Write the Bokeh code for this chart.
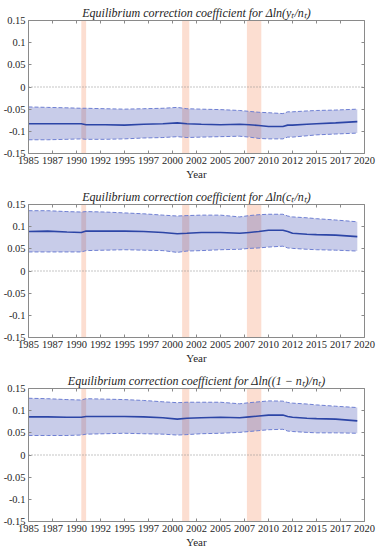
from bokeh.plotting import figure
from bokeh.layouts import column
from bokeh.models import (FixedTicker, LinearAxis, Span, Range1d, CustomJSTickFormatter,
                          BoxAnnotation, Spacer)
from bokeh.embed import file_html
from bokeh.resources import INLINE

years = [1985, 1987, 1989, 1990.5, 1991, 1993, 1995, 1997, 1999, 2000.5, 2001.5, 2003,
         2005, 2007, 2008, 2009, 2010, 2011.5, 2012, 2012.5, 2014, 2015, 2017, 2019.25]

y_mid = [-0.083, -0.083, -0.083, -0.083, -0.085, -0.085, -0.086, -0.084, -0.083, -0.081, -0.083, -0.084,
         -0.085, -0.084, -0.085, -0.087, -0.089, -0.089, -0.086, -0.086, -0.084, -0.083, -0.081, -0.078]
y_up = [-0.045, -0.046, -0.047, -0.048, -0.048, -0.049, -0.050, -0.049, -0.048, -0.046, -0.049, -0.050,
        -0.051, -0.053, -0.055, -0.057, -0.058, -0.060, -0.056, -0.056, -0.054, -0.053, -0.052, -0.050]
y_lo = [-0.119, -0.119, -0.118, -0.117, -0.118, -0.118, -0.117, -0.115, -0.114, -0.112, -0.114, -0.113,
        -0.112, -0.111, -0.113, -0.116, -0.117, -0.117, -0.113, -0.113, -0.110, -0.108, -0.106, -0.104]

c_mid = [0.089, 0.090, 0.088, 0.087, 0.090, 0.090, 0.090, 0.089, 0.087, 0.084, 0.085, 0.087,
         0.087, 0.085, 0.087, 0.089, 0.092, 0.092, 0.089, 0.085, 0.083, 0.082, 0.081, 0.0775]
c_up = [0.136, 0.136, 0.134, 0.133, 0.134, 0.133, 0.131, 0.129, 0.126, 0.124, 0.125, 0.126,
        0.126, 0.122, 0.125, 0.127, 0.128, 0.128, 0.124, 0.122, 0.120, 0.118, 0.115, 0.111]
c_lo = [0.043, 0.043, 0.043, 0.043, 0.046, 0.047, 0.048, 0.047, 0.046, 0.042, 0.045, 0.046,
        0.048, 0.049, 0.051, 0.052, 0.054, 0.056, 0.052, 0.051, 0.049, 0.048, 0.047, 0.045]

n_mid = [0.086, 0.086, 0.085, 0.085, 0.087, 0.087, 0.087, 0.086, 0.084, 0.081, 0.083, 0.084,
         0.085, 0.084, 0.086, 0.088, 0.090, 0.090, 0.087, 0.085, 0.083, 0.082, 0.081, 0.077]
n_up = [0.128, 0.127, 0.125, 0.124, 0.127, 0.126, 0.125, 0.123, 0.120, 0.118, 0.119, 0.119,
        0.119, 0.1155, 0.118, 0.120, 0.122, 0.1215, 0.1185, 0.117, 0.115, 0.113, 0.110, 0.107]
n_lo = [0.044, 0.044, 0.044, 0.045, 0.047, 0.048, 0.049, 0.048, 0.047, 0.045, 0.046, 0.048,
        0.049, 0.051, 0.053, 0.055, 0.057, 0.058, 0.054, 0.053, 0.051, 0.050, 0.050, 0.049]

recession_start = [1990.5, 2001.0, 2007.75]
recession_end = [1991.0, 2001.75, 2009.25]

x_ticks = [1985, 1987.5, 1990, 1992.5, 1995, 1997.5, 2000, 2002.5, 2005, 2007.5, 2010, 2012.5,
           2015, 2017.5, 2020]
x_tick_labels = ["1985", "1987", "1990", "1992", "1995", "1997", "2000", "2002", "2005", "2007",
                 "2010", "2012", "2015", "2017", "2020"]
y_ticks = [-0.15, -0.1, -0.05, 0, 0.05, 0.1, 0.15]
y_tick_labels = ["-0.15", "-0.1", "-0.05", "0", "0.05", "0.1", "0.15"]

titles = ["Equilibrium correction coefficient for \u0394ln(y\u209c/n\u209c)",
          "Equilibrium correction coefficient for \u0394ln(c\u209c/n\u209c)",
          "Equilibrium correction coefficient for \u0394ln((1 \u2212 n\u209c)/n\u209c)"]
series = [(y_mid, y_up, y_lo), (c_mid, c_up, c_lo), (n_mid, n_up, n_lo)]

FONT = "Liberation Serif"
AXIS_COLOR = "#8a8a8a"
LABEL_COLOR = "#262626"
BAND_LINE = "#6e7fd2"
MID_LINE = "#2c45a6"


def style_axis(ax, ticks, labels=None, show_labels=True):
    ax.ticker = FixedTicker(ticks=ticks)
    ax.axis_line_color = AXIS_COLOR
    ax.major_tick_line_color = AXIS_COLOR
    ax.minor_tick_line_color = None
    ax.major_tick_in = 3
    ax.major_tick_out = 0
    ax.major_label_text_font = FONT
    ax.major_label_text_font_size = "10.5px"
    ax.major_label_text_color = LABEL_COLOR
    ax.major_label_standoff = 3
    if show_labels:
        ax.major_label_overrides = {t: l for t, l in zip(ticks, labels)}
    else:
        ax.formatter = CustomJSTickFormatter(code="return ''")
        ax.major_label_standoff = 0


figs = [Spacer(height=3, width=10)]
for i, (title, (mid, up, lo)) in enumerate(zip(titles, series)):
    last = i == 2
    p = figure(frame_width=336, frame_height=133, output_backend="svg", toolbar_location=None,
               x_range=Range1d(1985, 2020), y_range=Range1d(-0.15, 0.15),
               min_border_left=23, min_border_right=12, min_border_top=0,
               min_border_bottom=27 if last else 34)
    p.title.text = title
    p.title.text_font = FONT
    p.title.text_font_style = "italic"
    p.title.text_font_size = "12px"
    p.title.text_color = LABEL_COLOR
    p.title.align = "center"
    p.title.standoff = 1
    p.title.offset = 0
    p.outline_line_color = None
    p.xgrid.visible = False
    p.ygrid.visible = False

    for s, e in zip(recession_start, recession_end):
        p.add_layout(BoxAnnotation(left=s, right=e, fill_color="#fcd8c9", fill_alpha=0.85,
                                   line_color=None, level="underlay"))

    p.varea(x=years, y1=lo, y2=up, fill_color="#3a48b0", fill_alpha=0.28)
    p.add_layout(Span(location=0, dimension="width", line_color="#8a8a8a",
                      line_dash="1 2", line_width=1))
    p.line(years, up, line_color=BAND_LINE, line_width=1, line_dash="4 2")
    p.line(years, lo, line_color=BAND_LINE, line_width=1, line_dash="4 2")
    p.line(years, mid, line_color=MID_LINE, line_width=1.6)

    style_axis(p.xaxis[0], x_ticks, x_tick_labels)
    style_axis(p.yaxis[0], y_ticks, y_tick_labels)
    p.xaxis.axis_label = "Year"
    p.xaxis.axis_label_text_font = FONT
    p.xaxis.axis_label_text_font_style = "normal"
    p.xaxis.axis_label_text_font_size = "11px"
    p.xaxis.axis_label_text_color = LABEL_COLOR
    p.xaxis.axis_label_standoff = 1

    top = LinearAxis()
    style_axis(top, x_ticks, show_labels=False)
    p.add_layout(top, "above")
    right = LinearAxis()
    style_axis(right, y_ticks, show_labels=False)
    p.add_layout(right, "right")
    figs.append(p)

layout = column(*figs, spacing=0)
open("out.html", "w").write(file_html(layout, INLINE))
